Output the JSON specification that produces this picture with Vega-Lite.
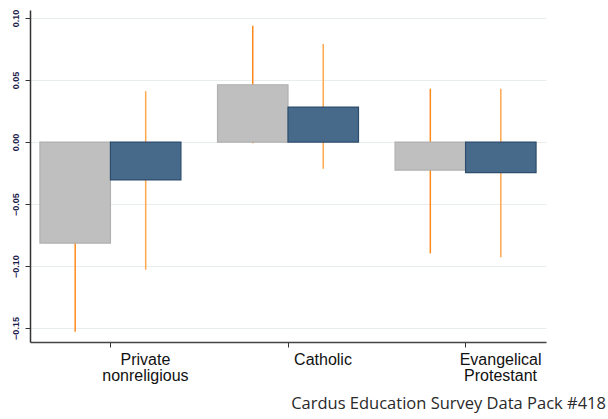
{
  "$schema": "https://vega.github.io/schema/vega-lite/v6.json",
  "autosize": "none",
  "width": 516,
  "height": 332,
  "padding": {"left": 30, "top": 10, "right": 62, "bottom": 77},
  "background": "white",
  "config": {"view": {"stroke": null}},
  "title": {
    "text": "Cardus Education Survey Data Pack #418",
    "orient": "bottom",
    "anchor": "end",
    "frame": "group",
    "dx": 60,
    "offset": 13,
    "font": "Open Sans",
    "fontSize": 16.5,
    "fontWeight": "normal",
    "color": "#2a2a2a"
  },
  "data": {
    "values": [
      {"group": "Private nonreligious", "series": "Model 1", "value": -0.0815, "lo": -0.153, "hi": -0.010},
      {"group": "Private nonreligious", "series": "Model 2", "value": -0.0306, "lo": -0.103, "hi": 0.041},
      {"group": "Catholic", "series": "Model 1", "value": 0.0462, "lo": -0.001, "hi": 0.0938},
      {"group": "Catholic", "series": "Model 2", "value": 0.0282, "lo": -0.0215, "hi": 0.079},
      {"group": "Evangelical Protestant", "series": "Model 1", "value": -0.0226, "lo": -0.0898, "hi": 0.043},
      {"group": "Evangelical Protestant", "series": "Model 2", "value": -0.0247, "lo": -0.093, "hi": 0.043}
    ]
  },
  "encoding": {
    "x": {
      "field": "group",
      "type": "nominal",
      "sort": ["Private nonreligious", "Catholic", "Evangelical Protestant"],
      "scale": {"paddingInner": 0.206, "paddingOuter": 0.056},
      "axis": {
        "title": null,
        "labelAngle": 0,
        "labelExpr": "split(datum.label, ' ')",
        "labelOffset": 35,
        "labelFont": "Liberation Sans",
        "labelFontSize": 16,
        "labelColor": "#111",
        "labelLineHeight": 16,
        "labelPadding": 4,
        "tickSize": 5,
        "tickColor": "#333",
        "domainColor": "#444",
        "domainWidth": 1.5,
        "grid": false
      }
    },
    "xOffset": {
      "field": "series",
      "type": "nominal",
      "scale": {"paddingInner": 0, "paddingOuter": 0}
    }
  },
  "layer": [
    {
      "mark": {"type": "rule", "strokeWidth": 1.5},
      "encoding": {
        "y": {"field": "lo", "type": "quantitative"},
        "y2": {"field": "hi"},
        "color": {
          "field": "series",
          "type": "nominal",
          "scale": {"range": ["#ff8a1c", "#ffa84f"]},
          "legend": null
        }
      }
    },
    {
      "mark": {"type": "bar", "strokeWidth": 1.2},
      "encoding": {
        "y": {
          "field": "value",
          "type": "quantitative",
          "scale": {"domain": [-0.1613, 0.1065], "nice": false, "zero": false},
          "axis": {
            "title": null,
            "values": [-0.15, -0.1, -0.05, 0, 0.05, 0.1],
            "format": ".2f",
            "labelAngle": 270,
            "labelAlign": "center",
            "labelBaseline": "bottom",
            "labelFont": "Liberation Sans",
            "labelFontSize": 9,
            "labelFontWeight": "bold",
            "labelColor": "#1a1a4a",
            "labelPadding": 5,
            "tickSize": 5,
            "tickColor": "#333",
            "domainColor": "#333",
            "domainWidth": 1.5,
            "grid": true,
            "gridColor": "#e8eeee",
            "gridWidth": 1
          }
        },
        "y2": {"datum": 0},
        "fill": {
          "field": "series",
          "type": "nominal",
          "scale": {"range": ["#bfbfbf", "#486a8a"]},
          "legend": null
        },
        "stroke": {
          "field": "series",
          "type": "nominal",
          "scale": {"range": ["#b0b0b0", "#2c4d6e"]},
          "legend": null
        }
      }
    }
  ]
}
